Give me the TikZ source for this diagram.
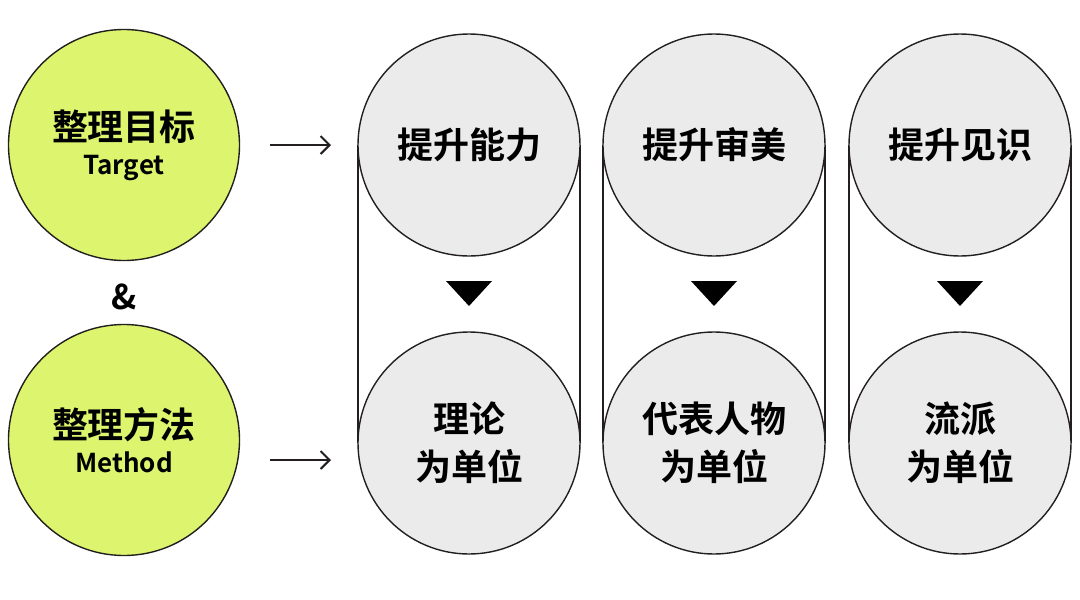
\documentclass[tikz,border=0pt]{standalone}
\usepackage{fontspec}
\setmainfont{Noto Sans CJK SC Bold}
\usetikzlibrary{arrows.meta}
\usetikzlibrary{positioning}
\definecolor{lime}{HTML}{DDF56E}
\definecolor{pale}{HTML}{EBEBEB}
\definecolor{ink}{HTML}{231F1F}
\tikzset{goal/.style={circle, draw=ink, line width=1.4pt, fill=lime,
    minimum size=231pt, inner sep=0pt, align=center,
    font=\fontsize{36}{40}\selectfont},
  stage/.style={circle, draw=ink, line width=1.4pt, fill=pale,
    minimum size=222pt, inner sep=0pt, align=center,
    font=\fontsize{36}{48}\selectfont}}

\begin{document}
\begin{tikzpicture}[x=1pt, y=-1pt]
    \useasboundingbox (0,0) rectangle (1080,600);

    % capsule sides first, so circles sit on top
    \foreach \cx in {469,714,960} {
      \draw[ink, line width=1.4pt] (\cx-111,145) -- (\cx-111,443);
      \draw[ink, line width=1.4pt] (\cx+111,145) -- (\cx+111,443);
    }

    \node[goal] (Target) at (124,145) {整理目标\\[-6pt]{\fontsize{26}{28}\selectfont Target}};
    \node[goal] (Method) at (124,440) {整理方法\\[-6pt]{\fontsize{26}{28}\selectfont Method}};
    \node[font=\fontsize{34}{36}\selectfont] (And) at (124,297) {\&};

    \node[stage] (Ability) at (469,145) {提升能力};
    \node[stage] (Taste) at (714,145) {提升审美};
    \node[stage] (Vision) at (960,145) {提升见识};
    \node[stage] (Theory) at (469,443) {理论\\为单位};
    \node[stage] (People) at (714,443) {代表人物\\为单位};
    \node[stage] (School) at (960,443) {流派\\为单位};

    \foreach \cx in {469,714,960}
      \fill (\cx-23,281) -- (\cx+23,281) -- (\cx,306) -- cycle;

    \coordinate (TargetOut) at (270,145);
    \coordinate (AbilityIn) at (331,145);
    \coordinate (MethodOut) at (270,460);
    \coordinate (TheoryIn) at (331,460);
    \draw[ink, line width=2pt, -{Straight Barb[length=9pt,width=18pt]}] (TargetOut) -- (AbilityIn);
    \draw[ink, line width=2pt, -{Straight Barb[length=9pt,width=18pt]}] (MethodOut) -- (TheoryIn);
\end{tikzpicture}
\end{document}
